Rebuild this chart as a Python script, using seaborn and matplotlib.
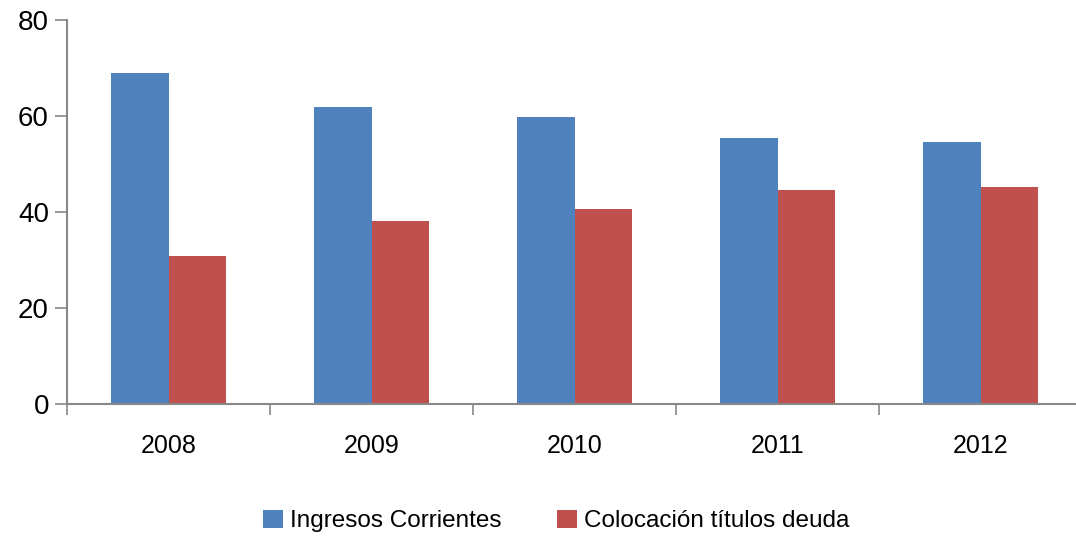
import pandas as pd
import matplotlib.pyplot as plt
import seaborn as sns

# --- datos ---
anios = ['2008', '2009', '2010', '2011', '2012']
ingresos = [68.9, 61.8, 59.7, 55.5, 54.5]
colocacion = [30.9, 38.2, 40.7, 44.6, 45.3]
series = ['Ingresos Corrientes', 'Colocación títulos deuda']

df = pd.DataFrame({
    'anio': anios * 2,
    'valor': ingresos + colocacion,
    'serie': [series[0]] * len(anios) + [series[1]] * len(anios),
})

sns.set_style('white')
plt.rcParams['font.family'] = ['Liberation Sans Narrow', 'Liberation Sans', 'DejaVu Sans']
plt.rcParams['text.color'] = 'black'
plt.rcParams['xtick.color'] = 'black'
plt.rcParams['ytick.color'] = 'black'

fig = plt.figure(figsize=(10.76, 5.40), dpi=100)
# el eje x sigue hasta el borde derecho de la imagen
ax = fig.add_axes([0.0623, 0.252, 0.9433, 0.711])

sns.barplot(data=df, x='anio', y='valor', hue='serie', order=anios,
            palette=['#4F81BD', '#C0504D'], width=0.57, saturation=1,
            linewidth=0, ax=ax, legend=True)

ax.set_ylim(0, 80)
ax.set_yticks([0, 20, 40, 60, 80])
ax.set_xlim(-0.5, 4.5)
ax.set_xlabel('')
ax.set_ylabel('')

# ticks de categoria en los bordes
ax.set_xticks([i - 0.5 for i in range(6)], minor=True)
ax.tick_params(axis='x', which='minor', bottom=True, length=8, width=1.2,
               color='#888888', direction='out')
ax.tick_params(axis='x', which='major', bottom=False, length=0, labelsize=18,
               labelcolor='black', pad=22)
ax.tick_params(axis='y', left=True, length=9, width=1.2, color='#888888',
               direction='out', labelsize=20, labelcolor='black', pad=4)

for s in ['top', 'right']:
    ax.spines[s].set_visible(False)
for s in ['left', 'bottom']:
    ax.spines[s].set_color('#888888')
    ax.spines[s].set_linewidth(1.5)

ax.legend_.remove()
handles, labels = ax.get_legend_handles_labels()
fig.legend(handles, labels, loc='center', bbox_to_anchor=(0.517, 0.035), ncol=2,
           frameon=False, fontsize=17.5, handlelength=0.8, handleheight=0.8,
           handletextpad=0.3, columnspacing=2.3, labelcolor='black')

fig.savefig('out.png', dpi=100)
